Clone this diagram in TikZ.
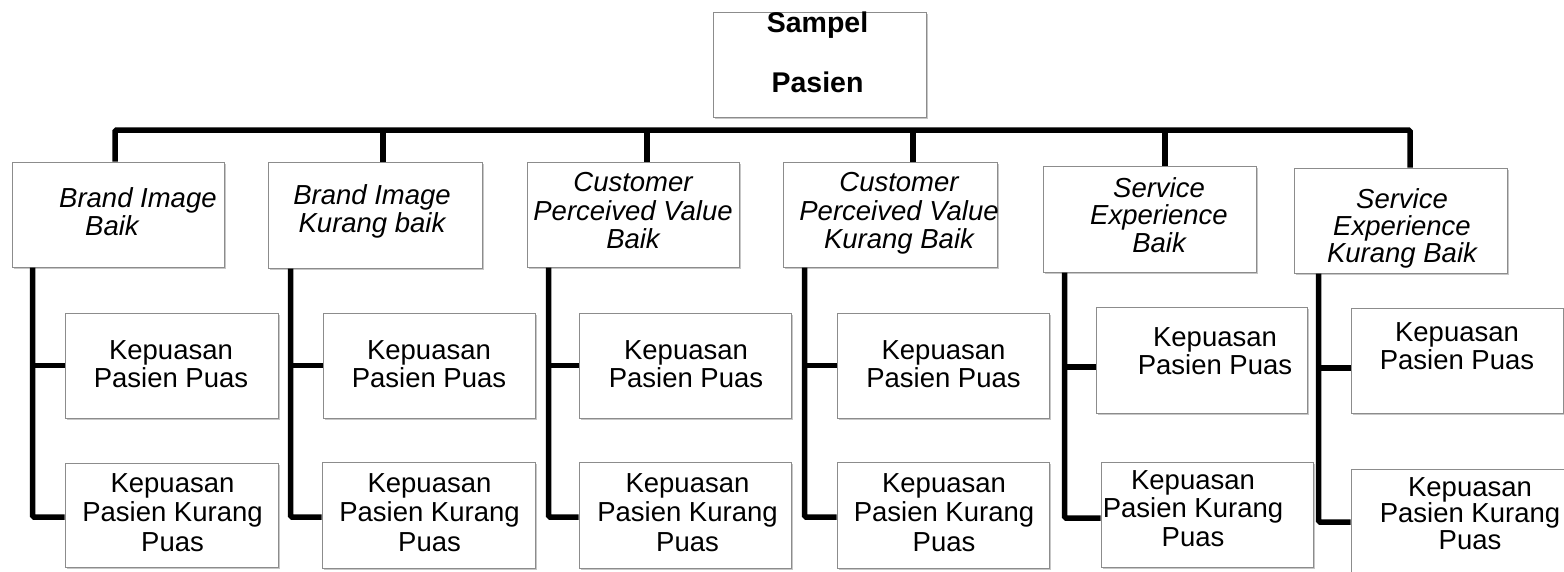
\documentclass[tikz,border=0pt]{standalone}
\usepackage{fontspec}
\setmainfont{Liberation Sans}
\usetikzlibrary{shadows}
\tikzset{
  box/.style={rectangle, draw=black!45, line width=1pt, fill=white, inner sep=0pt,
    drop shadow={shadow xshift=1.5pt, shadow yshift=-2pt, fill=black, opacity=0.22}},
  conn/.style={line width=5.5pt, draw=black, rounded corners=1.5pt},
  txt/.style={anchor=north, inner sep=0pt, align=center, font=\fontsize{27.5}{28.5}\selectfont},
  itxt/.style={anchor=north, inner sep=0pt, align=center, font=\fontsize{27.5}{28.5}\selectfont\itshape},
  ktxt/.style={anchor=north, inner sep=0pt, align=center, font=\fontsize{27.5}{29.3}\selectfont},
}
\begin{document}
\begin{tikzpicture}[x=1pt, y=-1pt]
\useasboundingbox (0,0) rectangle (1564,571);
\clip (0,0) rectangle (1564,571);
\fill[white] (0,0) rectangle (1564,571);

% top box
\node[box, minimum width=213pt, minimum height=105pt] (top) at (819.5,64.5) {};
\node[anchor=north, inner sep=0pt, align=center, font=\fontsize{28.5}{60}\selectfont\bfseries] (ttop) at (817.5,11.5) {Sampel\\Pasien};

% level 1 boxes
\node[box, minimum width=212pt, minimum height=105pt] (b1) at (118,214.5) {};
\node[box, minimum width=214pt, minimum height=106pt] (b2) at (375,215) {};
\node[box, minimum width=212pt, minimum height=105pt] (b3) at (633,214.5) {};
\node[box, minimum width=214pt, minimum height=105pt] (b4) at (890,214.5) {};
\node[box, minimum width=213pt, minimum height=106pt] (b5) at (1149.5,219) {};
\node[box, minimum width=213pt, minimum height=105pt] (b6) at (1400.5,220.5) {};

\node[itxt, anchor=north west, align=left] (tb1) at (59,187.3) {Brand Image\\\hspace*{26pt}Baik};
\node[itxt] (tb2) at (372,184.3) {Brand Image\\Kurang baik};
\node[itxt] (tb3) at (633,172.3) {Customer\\Perceived Value\\Baik};
\node[itxt] (tb4) at (899,172.3) {Customer\\Perceived Value\\Kurang Baik};
\node[itxt, font=\fontsize{27.5}{27.5}\selectfont\itshape] (tb5) at (1159,177.3) {Service\\Experience\\Baik};
\node[itxt, font=\fontsize{27.5}{27}\selectfont\itshape] (tb6) at (1402,188.3) {Service\\Experience\\Kurang Baik};

% puas boxes
\node[box, minimum width=213pt, minimum height=105pt] (p1) at (171.5,365.5) {};
\node[box, minimum width=212pt, minimum height=105pt] (p2) at (429,365.5) {};
\node[box, minimum width=212pt, minimum height=105pt] (p3) at (685,365.5) {};
\node[box, minimum width=212pt, minimum height=105pt] (p4) at (943,365.5) {};
\node[box, minimum width=211pt, minimum height=106pt] (p5) at (1201.5,360) {};
\node[box, minimum width=212pt, minimum height=105pt] (p6) at (1457,360.5) {};

\node[txt] (tp1) at (171,340.3) {Kepuasan\\Pasien Puas};
\node[txt] (tp2) at (429,340.3) {Kepuasan\\Pasien Puas};
\node[txt] (tp3) at (686,340.3) {Kepuasan\\Pasien Puas};
\node[txt] (tp4) at (943.5,340.3) {Kepuasan\\Pasien Puas};
\node[txt] (tp5) at (1215,327.3) {Kepuasan\\Pasien Puas};
\node[txt] (tp6) at (1457,322.3) {Kepuasan\\Pasien Puas};

% kurang puas boxes
\node[box, minimum width=213pt, minimum height=104pt] (k1) at (171.5,515) {};
\node[box, minimum width=213pt, minimum height=106pt] (k2) at (428.5,515) {};
\node[box, minimum width=212pt, minimum height=106pt] (k3) at (685,515) {};
\node[box, minimum width=212pt, minimum height=106pt] (k4) at (943,515) {};
\node[box, minimum width=212pt, minimum height=105pt] (k5) at (1207,514.5) {};
\node[box, minimum width=219pt, minimum height=110pt] (k6) at (1460.5,524) {};

\node[ktxt] (tk1) at (172.5,473.3) {Kepuasan\\Pasien Kurang\\Puas};
\node[ktxt] (tk2) at (429.5,473.3) {Kepuasan\\Pasien Kurang\\Puas};
\node[ktxt] (tk3) at (687.5,473.3) {Kepuasan\\Pasien Kurang\\Puas};
\node[ktxt] (tk4) at (944,473.3) {Kepuasan\\Pasien Kurang\\Puas};
\node[ktxt, font=\fontsize{27.5}{28.5}\selectfont] (tk5) at (1193,470.3) {Kepuasan\\Pasien Kurang\\Puas};
\node[ktxt, font=\fontsize{27.5}{26.5}\selectfont] (tk6) at (1470,477.3) {Kepuasan\\Pasien Kurang\\Puas};

% horizontal bar and drops
\coordinate (barL) at (115,130);
\coordinate (barR) at (1410,130);
\draw[conn] ([xshift=-3pt]b1.north) -- (barL) -- (barR) -- ([xshift=9.5pt]b6.north);
\draw[conn] ([xshift=8pt]b2.north) -- ([xshift=8pt]b2.north |- barL);
\draw[conn] ([xshift=14pt]b3.north) -- ([xshift=14pt]b3.north |- barL);
\draw[conn] ([xshift=23pt]b4.north) -- ([xshift=23pt]b4.north |- barL);
\draw[conn] ([xshift=15.5pt]b5.north) -- ([xshift=15.5pt]b5.north |- barL);

% branch end points
\coordinate (p5w) at ([yshift=-7pt]p5.west);
\coordinate (p6w) at ([yshift=-7.5pt]p6.west);

% branches
\draw[conn] ([xshift=21pt]b1.south west) |- ([yshift=-2pt]k1.west);
\draw[conn] ([xshift=21pt]b1.south west |- p1.west) -- (p1.west);
\draw[conn] ([xshift=23pt]b2.south west) |- ([yshift=-2pt]k2.west);
\draw[conn] ([xshift=23pt]b2.south west |- p2.west) -- (p2.west);
\draw[conn] ([xshift=22pt]b3.south west) |- ([yshift=-2pt]k3.west);
\draw[conn] ([xshift=22pt]b3.south west |- p3.west) -- (p3.west);
\draw[conn] ([xshift=22pt]b4.south west) |- ([yshift=-2pt]k4.west);
\draw[conn] ([xshift=22pt]b4.south west |- p4.west) -- (p4.west);
\draw[conn] ([xshift=22pt]b5.south west) |- ([yshift=-3.5pt]k5.west);
\draw[conn] ([xshift=22pt]b5.south west |- p5w) -- (p5w);
\draw[conn] ([xshift=25pt]b6.south west) |- ([yshift=2pt]k6.west);
\draw[conn] ([xshift=25pt]b6.south west |- p6w) -- (p6w);
\end{tikzpicture}
\end{document}
